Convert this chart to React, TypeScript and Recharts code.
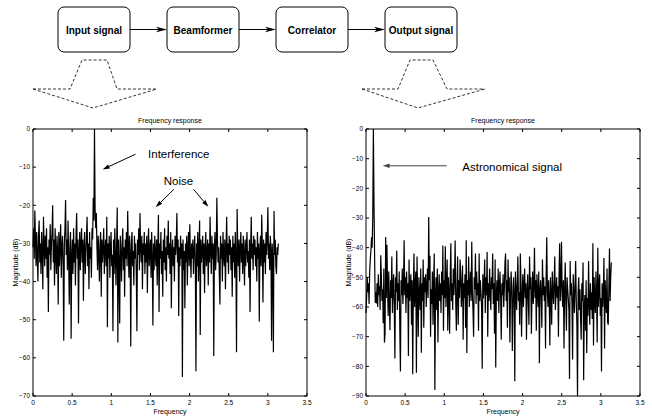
import { LineChart, Line, XAxis, YAxis, ReferenceLine, ReferenceDot } from "recharts";

const FONT = '"Liberation Sans", Arial, Helvetica, sans-serif';

// processing chain shown above the plots
const blocks = ["Input signal", "Beamformer", "Correlator", "Output signal"];

const freqTicks = [0, 0.5, 1, 1.5, 2, 2.5, 3, 3.5];
const inputTicks = [-70, -60, -50, -40, -30, -20, -10, 0];
const outputTicks = [-90, -80, -70, -60, -50, -40, -30, -20, -10, 0];

const inputMag = [
  -31, -26, -34, -21.4, -29, -36, -27, -33, -40, -28, -24, -35, -30, -38, -27, -32, -42, -23, -30, -36,
  -28, -34, -26, -39, -31, -48, -29, -33, -25, -37, -30, -27, -20, -35, -29, -41, -26, -33, -38, -28,
  -32, -46, -27, -36, -30, -25, -39, -31, -28, -35, -55.5, -30, -26, -18.6, -33, -29, -37, -24, -34, -46,
  -31, -27, -55, -33, -29, -38, -26, -35, -30, -41, -28, -22, -34, -29, -51, -32, -27, -37, -30, -26,
  -35, -29, -45, -31, -27, -38, -33, -28, -23, -36, -30, -42, -27, -34, -31, -39, -26, -29, -18, -24,
  0, -21, -26, -22, -31, -37, -28, -33, -40, -30, -27, -44, -29, -35, -31, -26, -38, -32, -29, -36,
  -23, -52, -30, -34, -28, -39, -31, -27, -36, -33, -53, -29, -38, -26, -33, -41, -30, -20.6, -56, -29,
  -35, -51, -28, -33, -40, -30, -26, -37, -31, -44, -29, -34, -27, -36, -21.5, -31, -39, -28, -33, -57,
  -30, -27, -36, -32, -41, -28, -34, -30, -38, -53, -29, -33, -26, -37, -22, -31, -35, -28, -42, -30,
  -33, -27, -38, -30, -35, -28, -43, -31, -26, -36, -32, -29, -39, -27, -34, -51.5, -30, -37, -28, -33,
  -36, -29, -41, -31, -22.5, -48, -30, -34, -27, -38, -32, -44, -29, -35, -26, -37, -31, -40, -28, -33,
  -24, -34, -30, -38, -27, -47, -32, -29, -36, -31, -40, -28, -33, -30, -22, -35, -29, -49, -31, -36,
  -28, -34, -30, -65, -29, -37, -32, -47, -30, -35, -28, -41, -31, -27, -36, -25, -33, -39, -30, -34,
  -29, -38, -32, -28, -35, -63.5, -30, -36, -27, -40, -31, -24, -54, -29, -35, -32, -28, -38, -30, -43,
  -31, -27, -36, -33, -29, -41, -30, -35, -23, -32, -38, -28, -34, -30, -59.5, -31, -27, -37, -33, -18,
  -29, -35, -31, -38, -46, -28, -34, -30, -40, -27, -33, -36, -29, -42, -31, -23, -35, -30, -38, -28,
  -33, -29, -37, -31, -44, -28, -35, -30, -39, -27, -34, -58.5, -21, -32, -36, -29, -40, -31, -27, -35,
  -30, -38, -28, -33, -41, -29, -36, -31, -27, -35, -32, -39, -29, -48, -31, -23, -34, -30, -37, -28,
  -33, -29, -36, -31, -40, -27, -34, -30, -50.5, -32, -28, -36, -22.5, -31, -45.5, -29, -35, -30, -38, -27,
  -33, -29, -20.5, -34, -30, -37, -28, -32, -55.5, -30, -35, -58.5, -21.5, -33, -29, -36, -38, -31, -33, -30,
];

const outputMag = [
  -62, -57, -50, -55, -52, -59, -48, -44, -41, -36.5, -40, -30, 0, -25, -43, -58.6, -55, -58.8, -52, -60,
  -49, -56, -53, -61, -42.6, -50, -58, -54, -65.5, -47, -72, -69, -36.4, -57, -39, -52, -63, -48, -59, -67.8,
  -51, -57, -43, -62, -53, -49, -60, -77.4, -50, -55, -41, -61, -52, -58, -48, -68, -81.7, -51, -56, -47,
  -59, -53, -37.5, -56, -50, -62, -48, -57, -52, -76.5, -44, -58, -54, -49, -66, -51, -82.7, -55, -42, -60,
  -53, -48, -82.2, -43, -57, -70, -50, -56, -61, -47, -75.4, -52, -58, -44, -67, -50, -55, -49, -60, -53,
  -47, -57, -29.7, -51, -42.7, -70, -54, -59, -48, -66, -52, -42, -88, -56, -50, -61, -47, -72, -55, -49,
  -58, -52, -62, -48, -56, -39.3, -68, -51, -57, -39.5, -60, -53, -44, -68, -50, -55, -69, -49, -38.5, -58,
  -52, -61, -47, -56, -50, -37.6, -59, -68, -53, -43, -66, -51, -57, -44, -49, -60, -54, -46, -71, -52,
  -57, -49, -67, -37.5, -75.5, -51, -56, -43, -60, -53, -48, -58, -38, -55, -61, -70, -50, -54, -42, -59,
  -48, -56, -52, -68, -42, -58, -51, -55, -60, -80.8, -49, -57, -53, -44, -62, -50, -56, -41.5, -70, -52,
  -58, -47, -55, -61, -50, -54, -42, -59, -52, -69, -44, -80.4, -56, -51, -58, -47, -62, -53, -48, -57,
  -71, -52, -56, -49, -60, -54, -45, -42, -58, -51, -67, -44, -55, -50, -72, -57, -48, -53, -74.8, -59,
  -50, -56, -85, -48, -54, -61, -52, -43, -58, -55, -66, -42, -51, -70, -56, -49, -60, -53, -47, -57,
  -52, -71, -55, -49, -58, -66, -43, -54, -50, -69, -56, -48, -59, -53, -40, -57, -51, -68, -49, -55,
  -60, -48, -79, -54, -51, -57, -67, -44, -56, -50, -58, -53, -74, -49, -36.5, -55, -60, -51, -57, -73,
  -50, -56, -66, -48, -54, -59, -52, -43, -61, -55, -50, -57, -53, -70, -49, -38.5, -58, -52, -38, -56,
  -60, -51, -74, -55, -45, -58, -68, -50, -54, -57, -61, -84.3, -44.5, -56, -52, -59, -77.7, -49, -55, -62,
  -53, -44.5, -58, -66, -90, -55, -50, -61, -54, -64, -71, -52, -58, -45, -84.7, -60, -56, -68, -51, -75.5,
  -57, -63, -44.5, -59, -66, -52, -61, -55, -64, -38.5, -73, -50, -58, -62, -48, -56, -72, -40, -60, -54,
  -49, -63, -57, -81.7, -52, -60, -55, -43.5, -74, -51, -58, -62, -47, -65, -66, -53, -40.3, -58, -50, -45,
];

const STEP = Math.PI / 400;
const inputData = inputMag.map((mag, i) => ({ freq: i * STEP, mag }));
const outputData = outputMag.map((mag, i) => ({ freq: i * STEP, mag }));

const tickStyle = { fontSize: 6.5, fill: "#000", fontFamily: FONT };
const fmtDb = (v: number) => (v < 0 ? "\u2212" + Math.abs(v) : String(v));
const blank = () => "";

// line with a filled head, used by the reference segments
const arrowShape = (p: any) => {
  const { x1, y1, x2, y2 } = p;
  const color = p.stroke || "#000";
  const a = Math.atan2(y2 - y1, x2 - x1);
  const len = 7;
  const half = 2.2;
  const bx = x2 - len * Math.cos(a);
  const by = y2 - len * Math.sin(a);
  const px = -Math.sin(a) * half;
  const py = Math.cos(a) * half;
  return (
    <g>
      <line x1={x1} y1={y1} x2={bx} y2={by} stroke={color} strokeWidth={1} />
      <polygon points={`${x2},${y2} ${bx + px},${by + py} ${bx - px},${by - py}`} fill={color} />
    </g>
  );
};

const YTitle = ({ viewBox, text }: any) => {
  const vb = viewBox || { x: 0, y: 0, width: 0, height: 0 };
  const cx = vb.x + 10;
  const cy = vb.y + vb.height / 2;
  return (
    <text
      x={cx}
      y={cy}
      transform={`rotate(-90 ${cx} ${cy})`}
      textAnchor="middle"
      dominantBaseline="central"
      fontSize={7}
      fontFamily={FONT}
      fill="#000"
    >
      {text}
    </text>
  );
};

const noteLabel = (value: string) => ({
  value,
  position: "right" as const,
  offset: 0,
  fontSize: 11.5,
  fontFamily: FONT,
  fill: "#000",
});

const Spectrum = ({ data, yMin, yTicks, margin, children }: any) => (
  <LineChart width={326} height={320} data={data} margin={margin}>
    <XAxis
      dataKey="freq"
      type="number"
      domain={[0, 3.5]}
      ticks={freqTicks}
      interval={0}
      height={24}
      tickSize={-3}
      tickMargin={7}
      tick={tickStyle}
      stroke="#000"
      label={{ value: "Frequency", position: "insideBottom", offset: 6, fontSize: 7, fontFamily: FONT, fill: "#000", stroke: "none" }}
    />
    <XAxis
      xAxisId="top"
      orientation="top"
      dataKey="freq"
      type="number"
      domain={[0, 3.5]}
      ticks={freqTicks}
      interval={0}
      height={1}
      tickSize={-3}
      tickFormatter={blank}
      stroke="#000"
      label={{ value: "Frequency response", position: "top", offset: 5, fontSize: 7, fontFamily: FONT, fill: "#000", stroke: "none" }}
    />
    <YAxis
      type="number"
      domain={[yMin, 0]}
      ticks={yTicks}
      interval={0}
      width={28}
      tickSize={-3}
      tickMargin={6}
      tick={tickStyle}
      tickFormatter={fmtDb}
      stroke="#000"
      label={<YTitle text="Magnitude (dB)" />}
    />
    <YAxis
      yAxisId="right"
      orientation="right"
      type="number"
      domain={[yMin, 0]}
      ticks={yTicks}
      interval={0}
      width={1}
      tickSize={-3}
      tickFormatter={blank}
      stroke="#000"
    />
    <Line dataKey="mag" stroke="#000" strokeWidth={1.2} dot={false} isAnimationActive={false} />
    <Line xAxisId="top" yAxisId="right" dataKey="mag" stroke="none" dot={false} activeDot={false} isAnimationActive={false} />
    {children}
  </LineChart>
);

const dash = "3 2";

const App = () => {
  return (
    <div style={{ position: "absolute", left: 0, top: 0, width: 652, height: 420, background: "#fff", fontFamily: FONT }}>
      <svg width={652} height={115} style={{ position: "absolute", left: 0, top: 0 }}>
        {blocks.map((name, i) => {
          const x = 58 + i * 109;
          return (
            <g key={name}>
              <rect x={x} y={7} width={72} height={45} rx={6} fill="#fff" stroke="#000" strokeWidth={1} />
              <text x={x + 36} y={30} textAnchor="middle" dominantBaseline="central" fontSize={10} fontWeight="bold" fontFamily={FONT}>
                {name}
              </text>
              {i < blocks.length - 1 && (
                <g>
                  <line x1={x + 72} y1={29.5} x2={x + 101} y2={29.5} stroke="#000" strokeWidth={1} />
                  <polygon points={`${x + 109},29.5 ${x + 98},26.8 ${x + 101},29.5 ${x + 98},32.2`} fill="#000" />
                </g>
              )}
            </g>
          );
        })}
        <g fill="none" stroke="#000" strokeWidth={0.8} strokeDasharray={dash}>
          <polyline points="33,89 70,89 82,60 107,60 117,89 157,89" />
          <polyline points="33,89 93,108 157,89" />
          <polyline points="362,89 398,89 410,60 433,60 447,89 485,89" />
          <polyline points="362,89 418,108 485,89" />
        </g>
      </svg>
      <div style={{ position: "absolute", left: 0, top: 100 }}>
        <Spectrum data={inputData} yMin={-70} yTicks={inputTicks} margin={{ top: 28, right: 18, bottom: 0, left: 5 }}>
          <ReferenceLine segment={[{ x: 1.31, y: -6.6 }, { x: 0.89, y: -10.6 }]} stroke="#000" shape={arrowShape} ifOverflow="visible" />
          <ReferenceLine segment={[{ x: 1.8, y: -15.8 }, { x: 1.567, y: -20.5 }]} stroke="#000" shape={arrowShape} ifOverflow="visible" />
          <ReferenceLine segment={[{ x: 2.05, y: -15.8 }, { x: 2.24, y: -20.4 }]} stroke="#000" shape={arrowShape} ifOverflow="visible" />
          <ReferenceDot x={1.47} y={-6.6} r={0} stroke="none" fill="none" ifOverflow="visible" label={noteLabel("Interference")} />
          <ReferenceDot x={1.67} y={-13.6} r={0} stroke="none" fill="none" ifOverflow="visible" label={noteLabel("Noise")} />
        </Spectrum>
      </div>
      <div style={{ position: "absolute", left: 326, top: 100 }}>
        <Spectrum data={outputData} yMin={-90} yTicks={outputTicks} margin={{ top: 28, right: 11, bottom: 0, left: 12 }}>
          <ReferenceLine segment={[{ x: 1.03, y: -12.4 }, { x: 0.213, y: -12.4 }]} stroke="#444" shape={arrowShape} ifOverflow="visible" />
          <ReferenceDot x={1.23} y={-12.7} r={0} stroke="none" fill="none" ifOverflow="visible" label={noteLabel("Astronomical signal")} />
        </Spectrum>
      </div>
    </div>
  );
};

export default App;
